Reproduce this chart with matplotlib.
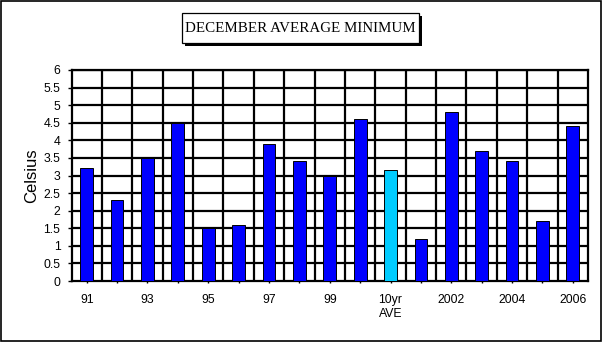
import matplotlib
matplotlib.use("agg")
import matplotlib.pyplot as plt
from matplotlib.patches import Rectangle

years = ['91', '92', '93', '94', '95', '96', '97', '98', '99', '2000',
         '10yr\nAVE', '2001', '2002', '2003', '2004', '2005', '2006']
temps = [3.2, 2.3, 3.5, 4.5, 1.5, 1.6, 3.9, 3.4, 3.0, 4.6,
         3.15, 1.2, 4.8, 3.7, 3.4, 1.7, 4.4]
shown = ['91', '93', '95', '97', '99', '10yr\nAVE', '2002', '2004', '2006']
yticks = [0, 0.5, 1, 1.5, 2, 2.5, 3, 3.5, 4, 4.5, 5, 5.5, 6]
ytick_labels = ['0', '0.5', '1', '1.5', '2', '2.5', '3', '3.5', '4', '4.5', '5', '5.5', '6']

W, H = 602, 342
fig = plt.figure(figsize=(W / 100, H / 100), dpi=100)
fig.patch.set_facecolor('white')
fig.patches.append(Rectangle((0.001, 0.002), 0.997, 0.995, transform=fig.transFigure,
                             fill=False, edgecolor='black', linewidth=1.2))

ax = fig.add_axes([71.5 / W, 1 - 281 / H, (588 - 71.5) / W, (281 - 70) / H])

colors = ['#00ccff' if 'AVE' in y else '#0000ff' for y in years]
x = list(range(len(years)))
ax.bar(x, temps, width=0.42, color=colors, edgecolor='black', linewidth=0.7, zorder=3)

ax.set_xlim(-0.5, len(years) - 0.5)
ax.set_ylim(0, 6)

# heavy black grid: horizontal every 0.5, vertical between categories
for v in yticks[1:]:
    ax.axhline(v, color='black', linewidth=1.6, zorder=1)
for b in range(1, len(years)):
    ax.axvline(b - 0.5, color='black', linewidth=1.6, zorder=1)

ax.set_yticks(yticks)
ax.set_yticklabels(ytick_labels, fontsize=8.8, family='Liberation Sans')
ax.set_xticks(x)
ax.set_xticklabels([y if y in shown else '' for y in years], fontsize=8.8,
                   family='Liberation Sans')
ax.tick_params(axis='x', length=3, direction='inout', width=1, pad=8)
ax.tick_params(axis='y', length=3, width=1, pad=5)
for s in ax.spines.values():
    s.set_linewidth(1.6)

ax.set_ylabel('Celsius', fontsize=12, family='Liberation Sans', labelpad=3)

# title in a box with drop shadow
def px_rect(x0, y0, x1, y1, **kw):
    return Rectangle((x0 / W, 1 - y1 / H), (x1 - x0) / W, (y1 - y0) / H,
                     transform=fig.transFigure, **kw)

fig.patches.append(px_rect(185, 16, 422, 46, facecolor='black', zorder=1))
fig.patches.append(px_rect(182, 13, 419, 43, facecolor='white', edgecolor='black',
                           linewidth=0.9, zorder=2))
fig.text(300.5 / W, 1 - 28 / H, 'DECEMBER AVERAGE MINIMUM', ha='center', va='center',
         fontsize=10.8, family='Liberation Serif', zorder=3)

fig.savefig('out.png', dpi=100)
plt.close(fig)
